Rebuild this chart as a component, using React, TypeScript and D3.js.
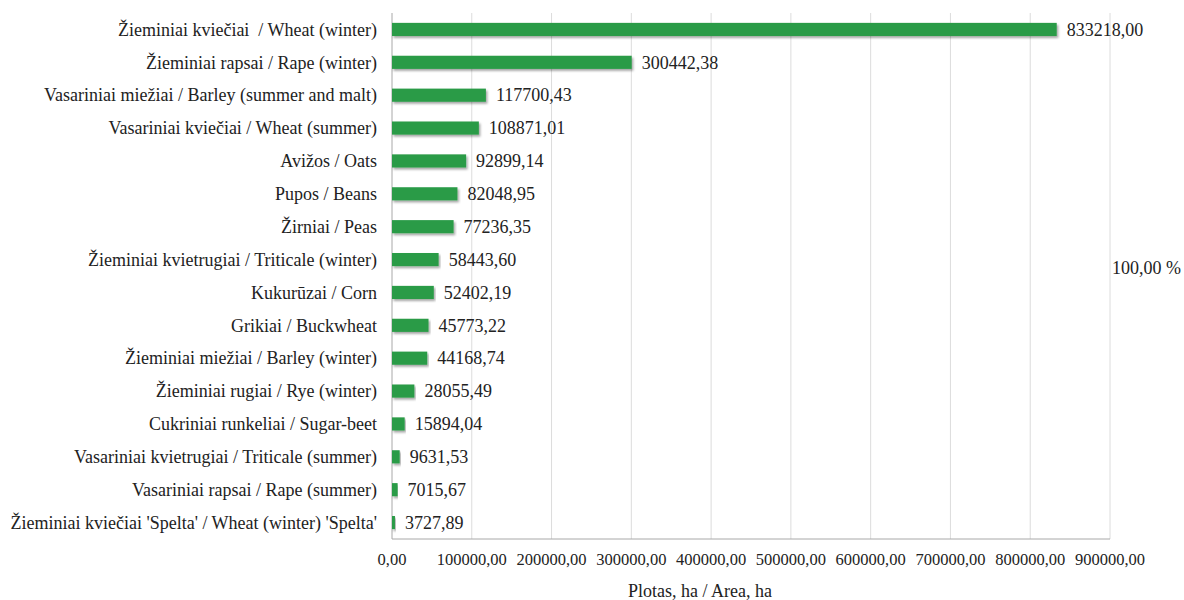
import React from 'react';
import * as d3 from 'd3';

// Crop areas, Lithuanian / English
const categories = [
  'Žieminiai kviečiai  / Wheat (winter)',
  'Žieminiai rapsai / Rape (winter)',
  'Vasariniai miežiai / Barley (summer and malt)',
  'Vasariniai kviečiai / Wheat (summer)',
  'Avižos / Oats',
  'Pupos / Beans',
  'Žirniai / Peas',
  'Žieminiai kvietrugiai / Triticale (winter)',
  'Kukurūzai / Corn',
  'Grikiai / Buckwheat',
  'Žieminiai miežiai / Barley (winter)',
  'Žieminiai rugiai / Rye (winter)',
  'Cukriniai runkeliai / Sugar-beet',
  'Vasariniai kvietrugiai / Triticale (summer)',
  'Vasariniai rapsai / Rape (summer)',
  "Žieminiai kviečiai 'Spelta' / Wheat (winter) 'Spelta'",
];

const areas = [
  833218.0, 300442.38, 117700.43, 108871.01, 92899.14, 82048.95, 77236.35,
  58443.6, 52402.19, 45773.22, 44168.74, 28055.49, 15894.04, 9631.53, 7015.67,
  3727.89,
];

const xTicks = [0, 100000, 200000, 300000, 400000, 500000, 600000, 700000, 800000, 900000];

const axisTitle = 'Plotas, ha / Area, ha';
const totalLabel = '100,00 %';

const fmt = (v: number) => v.toFixed(2).replace('.', ',');

const W = 1184;
const H = 600;
const margin = {top: 13, right: 74, bottom: 61, left: 392};
const width = W - margin.left - margin.right;
const height = H - margin.top - margin.bottom;

const textStyle: React.CSSProperties = {
  fontFamily: '"Liberation Serif"',
  fontSize: 18,
  whiteSpace: 'pre',
};
const tickStyle: React.CSSProperties = {...textStyle, fontSize: 16.5};
const ink = '#222';

export default function App() {
  const x = d3.scaleLinear().domain([0, 900000]).range([0, width]);
  const y = d3
    .scaleBand<string>()
    .domain(categories)
    .range([0, height])
    .paddingInner(0.6)
    .paddingOuter(0.3);

  return (
    <svg
      width={W}
      height={H}
      style={{position: 'absolute', left: 0, top: 0, background: '#fff'}}
    >
      <defs>
        <filter id="bar-shadow" x="-5%" y="-30%" width="110%" height="170%">
          <feDropShadow dx={1.5} dy={2} stdDeviation={1.2} floodColor="#000" floodOpacity={0.35} />
        </filter>
      </defs>
      <g transform={`translate(${margin.left},${margin.top})`}>
        {/* grid lines */}
        {xTicks.slice(1).map((t) => (
          <line key={t} x1={x(t)} x2={x(t)} y1={0} y2={height} stroke="#dcdcdc" />
        ))}
        {/* frame */}
        <line x1={0} x2={0} y1={0} y2={height} stroke="#a8a8a8" />
        <line x1={0} x2={width} y1={height} y2={height} stroke="#a8a8a8" />

        {/* bars */}
        {areas.map((v, i) => (
          <rect
            key={categories[i]}
            x={0}
            y={y(categories[i])}
            width={x(v)}
            height={y.bandwidth()}
            fill="#2a9b47"
            filter="url(#bar-shadow)"
          />
        ))}

        {/* value labels */}
        {areas.map((v, i) => (
          <text
            key={'v' + i}
            x={x(v) + 10}
            y={y(categories[i])! + y.bandwidth() / 2}
            dy="0.35em"
            fill={ink}
            style={textStyle}
          >
            {fmt(v)}
          </text>
        ))}

        {/* category labels */}
        {categories.map((c) => (
          <text
            key={'c' + c}
            x={-15}
            y={y(c)! + y.bandwidth() / 2}
            dy="0.35em"
            textAnchor="end"
            fill={ink}
            style={textStyle}
          >
            {c}
          </text>
        ))}

        {/* x tick labels */}
        {xTicks.map((t) => (
          <text
            key={'t' + t}
            x={x(t)}
            y={height + 20}
            dy="0.35em"
            textAnchor="middle"
            fill={ink}
            style={tickStyle}
          >
            {fmt(t)}
          </text>
        ))}

        <text
          x={700 - margin.left}
          y={height + 52}
          dy="0.35em"
          textAnchor="middle"
          fill={ink}
          style={textStyle}
        >
          {axisTitle}
        </text>

        <text
          x={width + 2}
          y={y(categories[7])! + y.bandwidth() / 2 + 8}
          dy="0.35em"
          fill={ink}
          style={textStyle}
        >
          {totalLabel}
        </text>
      </g>
    </svg>
  );
}
